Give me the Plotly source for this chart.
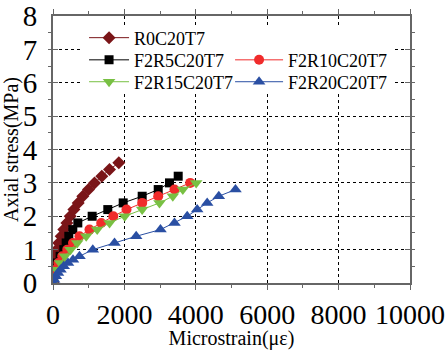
import plotly.graph_objects as go

# Axial stress (MPa) vs. microstrain for each specimen
r0_strain = [0, 10, 22, 40, 62, 107, 163, 229, 303, 388, 481, 584, 705, 835, 995, 1162, 1368, 1583, 1843]
r0_stress = [0, 0.2, 0.4, 0.6, 0.8, 1.0, 1.2, 1.4, 1.6, 1.8, 2.0, 2.2, 2.4, 2.6, 2.8, 3.0, 3.2, 3.4, 3.6]

r5_strain = [0, 20, 60, 120, 200, 303, 369, 443, 555, 695, 1097, 1535, 1966, 2498, 2947, 3263, 3507]
r5_stress = [0, 0.2, 0.4, 0.6, 0.8, 1.0, 1.2, 1.4, 1.6, 1.8, 2.0, 2.2, 2.4, 2.6, 2.8, 3.0, 3.2]

r10_strain = [0, 25, 70, 150, 260, 400, 560, 742, 1022, 1350, 1690, 2059, 2498, 2947, 3403, 3843]
r10_stress = [0, 0.2, 0.4, 0.6, 0.8, 1.0, 1.2, 1.4, 1.6, 1.8, 2.0, 2.2, 2.4, 2.6, 2.8, 3.0]

r15_strain = [0, 35, 100, 200, 330, 490, 677, 930, 1238, 1583, 2010, 2498, 2983, 3356, 3636, 4011]
r15_stress = [0, 0.2, 0.4, 0.6, 0.8, 1.0, 1.2, 1.4, 1.6, 1.8, 2.0, 2.2, 2.4, 2.6, 2.8, 3.0]

r20_strain = [0, 30, 80, 140, 210, 300, 420, 560, 742, 1115, 1723, 2330, 3011, 3403, 3759, 4039, 4319, 4644, 5112]
r20_stress = [0, 0.1, 0.2, 0.3, 0.4, 0.5, 0.6, 0.7, 0.8, 1.0, 1.2, 1.4, 1.6, 1.8, 2.0, 2.2, 2.4, 2.6, 2.8]

x_ticks = [0, 2000, 4000, 6000, 8000, 10000]
x_tick_labels = ["0", "2000", "4000", "6000", "8000", "10000"]
y_ticks = [0, 1, 2, 3, 4, 5, 6, 7, 8]

SERIF = "Liberation Serif"

# name, strain, stress, colour, symbol, size, legend id, legend top-left (paper units), sample width
series = [
    ("R0C20T7", r0_strain, r0_stress, "#7a1518", "diamond", 10, "legend2", (0.087, 0.987), 40),
    ("F2R5C20T7", r5_strain, r5_stress, "#000000", "square", 9, "legend3", (0.087, 0.904), 40),
    ("F2R10C20T7", r10_strain, r10_stress, "#f02b2b", "circle", 10, "legend4", (0.496, 0.904), 48),
    ("F2R15C20T7", r15_strain, r15_stress, "#78c043", "triangle-down", 11, "legend5", (0.087, 0.822), 40),
    ("F2R20C20T7", r20_strain, r20_stress, "#2a4fa3", "triangle-up", 11, "legend6", (0.496, 0.822), 48),
]

fig = go.Figure()
legends = {}
for name, xs, ys, color, symbol, size, leg, (lx, ly), iw in series:
    fig.add_trace(go.Scatter(
        x=xs, y=ys, name=name, mode="lines+markers",
        line=dict(color=color, width=1),
        marker=dict(symbol=symbol, size=size, color=color),
        legend=leg,
    ))
    legends[leg] = dict(
        x=lx, y=ly, xanchor="left", yanchor="top",
        bgcolor="rgba(0,0,0,0)", borderwidth=0, itemwidth=iw,
        font=dict(family=SERIF, size=18, color="#000000"),
    )

# white panel behind the legend block so the grid does not run through it
fig.add_shape(
    type="rect", xref="paper", yref="paper",
    x0=0.076, x1=0.95, y0=0.712, y1=0.963,
    fillcolor="white", line=dict(width=0), layer="above",
)

axis_common = dict(
    showline=True, linecolor="#666666", linewidth=2, mirror="ticks",
    showgrid=True, gridcolor="#000000", gridwidth=1, griddash="dot",
    zeroline=False, tickcolor="#666666", ticklen=5, automargin=False,
)

fig.update_layout(
    width=447, height=350,
    margin=dict(l=53, r=37, t=16, b=67),
    paper_bgcolor="white", plot_bgcolor="white",
    font=dict(family=SERIF, color="#000000"),
    xaxis=dict(
        range=[0, 10000], tickvals=x_ticks, ticktext=x_tick_labels, ticks="outside",
        ticklabelstandoff=0,
        tickfont=dict(family=SERIF, size=28, color="#000000"),
        minor=dict(dtick=1000, ticks="outside", ticklen=3, tickcolor="#666666"),
        title=dict(text="Microstrain(με)", font=dict(family=SERIF, size=20, color="#000000"), standoff=8),
        **axis_common,
    ),
    yaxis=dict(
        range=[0, 8], tickvals=y_ticks, ticks="inside", ticklabelstandoff=8,
        tickfont=dict(family=SERIF, size=29, color="#000000"),
        minor=dict(dtick=0.5, ticks="outside", ticklen=3, tickcolor="#666666"),
        title=dict(text="Axial stress(MPa)", font=dict(family=SERIF, size=20, color="#000000")),
        **axis_common,
    ),
    **legends,
)

fig.write_html("out.html")
